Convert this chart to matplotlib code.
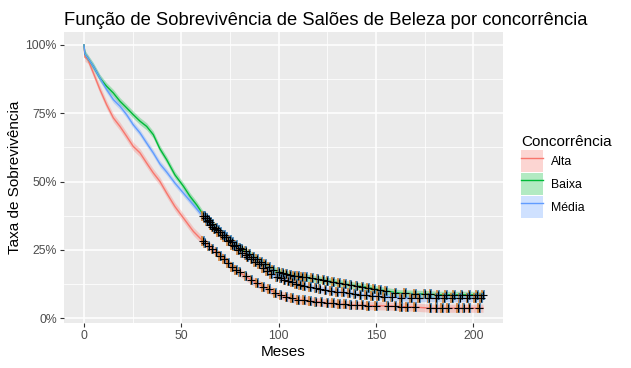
import numpy as np
import matplotlib
matplotlib.use("Agg")
import matplotlib.pyplot as plt
from matplotlib.patches import Patch
from matplotlib.lines import Line2D
from matplotlib.transforms import offset_copy

plt.rcParams['font.family'] = ['Liberation Sans', 'DejaVu Sans']

groups = ['Alta', 'Baixa', 'Média']
colors = {'Alta': '#F8766D', 'Baixa': '#00BA38', 'Média': '#619CFF'}

# curvas de sobrevivência (meses, taxa)
t_alta = [0, 0.5, 2, 4.8, 8.2, 11.6, 15.1, 18.5, 21.9, 25.3, 28.8, 32.2, 35.6, 39, 42.5,
          46.7, 51.1, 56.2, 61.3, 66.4, 71.6, 76.7, 81.8, 87, 92.1, 95.5, 99, 105,
          111, 117, 123, 130, 137, 145, 157, 170, 178, 205]
s_alta = [1.0, 0.955, 0.947, 0.898, 0.837, 0.782, 0.733, 0.702, 0.666, 0.629, 0.605, 0.568,
          0.532, 0.501, 0.458, 0.409, 0.367, 0.318, 0.281, 0.251, 0.22, 0.184, 0.159,
          0.135, 0.116, 0.104, 0.09, 0.076, 0.067, 0.063, 0.058, 0.053, 0.049, 0.047,
          0.045, 0.041, 0.037, 0.037]

t_baixa = [0, 0.5, 4.8, 8.2, 11.6, 15.1, 18.5, 21.9, 25.3, 28.8, 32.2, 35.6, 39, 42.5,
           46.7, 51.1, 54.5, 57.9, 61.3, 66.4, 71.6, 76.7, 81.8, 87, 92.1, 97.3, 102.4,
           105.8, 111, 117, 123, 130, 137, 145, 152, 162, 175, 183, 205]
s_baixa = [1.0, 0.967, 0.922, 0.879, 0.849, 0.824, 0.794, 0.77, 0.745, 0.721, 0.702,
           0.672, 0.62, 0.58, 0.525, 0.483, 0.446, 0.415, 0.379, 0.342, 0.306, 0.275,
           0.25, 0.226, 0.202, 0.177, 0.165, 0.159, 0.153, 0.146, 0.14, 0.131, 0.122,
           0.114, 0.104, 0.092, 0.089, 0.086, 0.086]

t_media = [0, 0.5, 4.8, 8.2, 11.6, 15.1, 18.5, 21.9, 25.3, 28.8, 32.2, 35.6, 39, 42.5,
           46.7, 51.1, 56.2, 60.4, 64.7, 69.8, 75, 80.1, 85.2, 90.3, 95.5, 100.6, 105.8,
           111, 117, 123, 130, 137, 142, 152, 160, 169, 205]
s_media = [1.0, 0.967, 0.922, 0.879, 0.837, 0.8, 0.776, 0.745, 0.708, 0.678, 0.641,
           0.605, 0.565, 0.535, 0.495, 0.458, 0.415, 0.379, 0.342, 0.312, 0.275, 0.245,
           0.22, 0.196, 0.165, 0.147, 0.135, 0.122, 0.113, 0.104, 0.097, 0.092, 0.086,
           0.08, 0.077, 0.073, 0.073]

# meia largura da faixa de confiança
ci_half = {'Alta': 0.015, 'Baixa': 0.013, 'Média': 0.012}

# tempos censurados (marcas +)
cens_alta = [61, 62, 64, 66, 68, 70, 72, 74, 76, 78, 80, 83, 86, 89, 92, 95, 98, 101, 104,
             107, 110, 113, 116, 119, 122, 125, 128, 131, 134, 137, 140, 143, 146, 150,
             156, 160, 163, 166, 170, 178, 181, 184, 187, 192, 195, 198, 203]
cens_baixa = [62, 63, 64, 65, 66, 68, 69, 70, 72, 73, 75, 76, 78, 80, 81, 83, 85, 87, 89,
              91, 93, 95, 97, 100, 102, 104, 106, 108, 110, 112, 114, 117, 120, 123, 125,
              128, 131, 134, 137, 140, 143, 146, 149, 152, 155, 160, 165, 170, 175, 178,
              182, 186, 190, 194, 198, 202, 205]
cens_media = [61, 62, 63, 65, 66, 67, 69, 71, 72, 74, 76, 77, 79, 81, 83, 84, 86, 88, 90,
              92, 94, 96, 99, 101, 103, 105, 107, 109, 111, 113, 116, 119, 121, 124, 127,
              130, 133, 136, 139, 142, 145, 148, 151, 154, 158, 163, 168, 172, 177, 181,
              185, 189, 193, 197, 201, 204]

series = {
    'Alta': (t_alta, s_alta, cens_alta),
    'Baixa': (t_baixa, s_baixa, cens_baixa),
    'Média': (t_media, s_media, cens_media),
}

fig = plt.figure(figsize=(6.31, 3.68), dpi=100)
ax = fig.add_axes([64 / 631, 1 - 322.7 / 368, (503 - 64) / 631, (322.7 - 31.8) / 368])
ax.set_facecolor('#EBEBEB')

for g in groups:
    t, s, cens = series[g]
    s = np.array(s)
    h = ci_half[g]
    ax.fill_between(t, np.clip(s - h, 0, 1), np.clip(s + h, 0, 1),
                    color=colors[g], alpha=0.3, linewidth=0, zorder=2)
    ax.plot(t, s, color=colors[g], lw=1.0, zorder=3)

for g in groups:
    t, s, cens = series[g]
    ys = np.interp(cens, t, s)
    left = offset_copy(ax.transData, fig=fig, x=-0.8, y=0, units='dots')
    right = offset_copy(ax.transData, fig=fig, x=0.8, y=0, units='dots')
    ax.plot(cens, ys, ls='none', marker='|', ms=6.5, mew=1.1, color='#D07A2A',
            transform=left, zorder=4)
    ax.plot(cens, ys, ls='none', marker='|', ms=6.5, mew=1.1, color='#2B78B5',
            transform=right, zorder=4)
    ax.plot(cens, ys, ls='none', marker='+', ms=5.5, mew=0.8, color='black', zorder=5)

ax.set_xlim(-10.25, 215.25)
ax.set_ylim(-0.016, 1.048)
ax.set_xticks([0, 50, 100, 150, 200])
ax.set_xticks([25, 75, 125, 175], minor=True)
ax.set_yticks([0, 0.25, 0.5, 0.75, 1.0])
ax.set_yticklabels(['0%', '25%', '50%', '75%', '100%'])
ax.set_yticks([0.125, 0.375, 0.625, 0.875], minor=True)
ax.grid(which='major', color='white', lw=1.1)
ax.grid(which='minor', color='white', lw=0.55)
ax.set_axisbelow(True)
for sp in ax.spines.values():
    sp.set_visible(False)
ax.tick_params(which='major', length=2.9, color='#333333', labelsize=8.8,
               labelcolor='#4D4D4D', pad=2.3)
ax.tick_params(which='minor', length=0)

ax.set_xlabel('Meses', fontsize=11, labelpad=2.5)
ax.set_ylabel('Taxa de Sobrevivência', fontsize=11, labelpad=2.5)
fig.text(64 / 631, 1 - 25 / 368, 'Função de Sobrevivência de Salões de Beleza por concorrência',
         fontsize=13.2, ha='left', va='baseline')

handles = [(Patch(facecolor=colors[g], alpha=0.3, edgecolor='none'),
            Line2D([], [], color=colors[g], lw=1.0)) for g in groups]
leg = fig.legend(handles, groups, title='Concorrência', loc='upper left',
                 bbox_to_anchor=(521 / 631, 1 - 135 / 368), frameon=False,
                 fontsize=8.8, title_fontsize=11, handlelength=1.8, handleheight=2.35,
                 handletextpad=0.65, labelspacing=0.1, borderaxespad=0, borderpad=0)
leg._legend_box.align = 'left'

fig.savefig('out.png', dpi=100)
